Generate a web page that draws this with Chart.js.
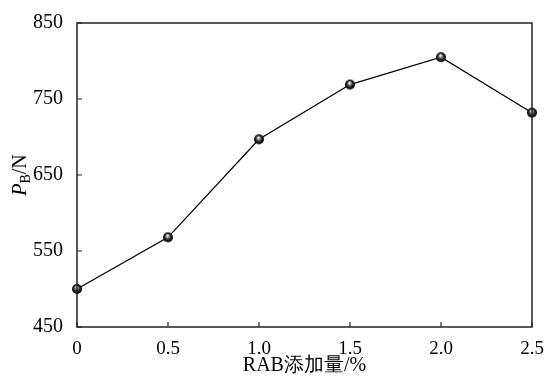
<!DOCTYPE html>
<html>
<head>
<meta charset="utf-8">
<script src="https://cdn.jsdelivr.net/npm/chart.js@4"></script>
<style>
  html, body { margin: 0; padding: 0; background: #fff; }
  #wrap { width: 549px; height: 378px; }
</style>
</head>
<body>
<div id="wrap"><canvas id="chart" width="549" height="378"></canvas></div>
<script>
const additions = [0, 0.5, 1.0, 1.5, 2.0, 2.5];
const loadValues = [500, 568, 697, 769, 805, 732];
const xTickLabels = ['0', '0.5', '1.0', '1.5', '2.0', '2.5'];
const yTicks = [450, 550, 650, 750, 850];

// black glossy ball marker
function makeBall(r) {
    const c = document.createElement('canvas');
    c.width = c.height = r * 2 + 2;
    const g = c.getContext('2d');
    const cx = r + 1, cy = r + 1;
    const grad = g.createRadialGradient(cx - r * 0.1, cy - r * 0.35, 0.5, cx, cy, r);
    grad.addColorStop(0, '#ffffff');
    grad.addColorStop(0.25, '#8a8a8a');
    grad.addColorStop(0.6, '#222');
    grad.addColorStop(1, '#000');
    g.fillStyle = grad;
    g.beginPath();
    g.arc(cx, cy, r, 0, Math.PI * 2);
    g.fill();
    return c;
}

const serif = '"Liberation Serif", "Times New Roman", serif';

// frame, inward ticks and the P_B/N title
const framePlugin = {
    id: 'frame',
    afterDraw(chart) {
        const { ctx, chartArea: a, scales } = chart;
        ctx.save();
        ctx.strokeStyle = '#222';
        ctx.lineWidth = 1.5;
        ctx.strokeRect(a.left, a.top, a.right - a.left, a.bottom - a.top);
        ctx.lineWidth = 1.2;
        ctx.beginPath();
        yTicks.forEach(v => {
            const y = scales.y.getPixelForValue(v);
            ctx.moveTo(a.left, y);
            ctx.lineTo(a.left + 5, y);
        });
        additions.forEach(v => {
            const x = scales.x.getPixelForValue(v);
            ctx.moveTo(x, a.bottom);
            ctx.lineTo(x, a.bottom - 5);
        });
        ctx.stroke();

        // y title
        ctx.translate(21, (a.top + a.bottom) / 2);
        ctx.rotate(-Math.PI / 2);
        ctx.fillStyle = '#000';
        ctx.textBaseline = 'middle';
        ctx.font = 'italic 20px ' + serif;
        const wP = ctx.measureText('P').width;
        ctx.font = '14px ' + serif;
        const wB = ctx.measureText('B').width;
        ctx.font = '20px ' + serif;
        const wN = ctx.measureText('/N').width;
        let x = -(wP + wB + wN) / 2;
        ctx.font = 'italic 20px ' + serif;
        ctx.fillText('P', x, 0);
        x += wP;
        ctx.font = '14px ' + serif;
        ctx.fillText('B', x, 5);
        x += wB;
        ctx.font = '20px ' + serif;
        ctx.fillText('/N', x, 0);
        ctx.restore();
    }
};

const ctx = document.getElementById('chart').getContext('2d');
new Chart(ctx, {
    type: 'line',
    data: {
        datasets: [{
            data: additions.map((x, i) => ({ x: x, y: loadValues[i] })),
            borderColor: '#000',
            borderWidth: 1.3,
            pointStyle: makeBall(5),
            pointRadius: 5,
            tension: 0,
            clip: false
        }]
    },
    options: {
        responsive: false,
        animation: false,
        events: [],
        layout: { padding: { top: 23, right: 17, left: 0, bottom: 0 } },
        plugins: {
            legend: { display: false },
            tooltip: { enabled: false }
        },
        scales: {
            x: {
                type: 'linear',
                min: 0,
                max: 2.5,
                afterBuildTicks: (s) => { s.ticks = additions.map(v => ({ value: v })); },
                afterFit: (s) => { s.height = 51; },
                grid: { display: false },
                border: { display: false },
                ticks: {
                    color: '#000',
                    font: { family: serif, size: 19 },
                    padding: 3,
                    maxRotation: 0,
                    callback: (v, i) => xTickLabels[i]
                },
                title: {
                    display: true,
                    text: 'RAB添加量/%',
                    color: '#000',
                    font: { family: serif, size: 20 },
                    padding: { top: 2, bottom: 0 }
                }
            },
            y: {
                min: 450,
                max: 850,
                afterBuildTicks: (s) => { s.ticks = yTicks.map(v => ({ value: v })); },
                afterFit: (s) => { s.width = 77; },
                grid: { display: false },
                border: { display: false },
                ticks: {
                    color: '#000',
                    font: { family: serif, size: 20 },
                    padding: 6
                }
            }
        }
    },
    plugins: [framePlugin]
});
</script>
</body>
</html>
